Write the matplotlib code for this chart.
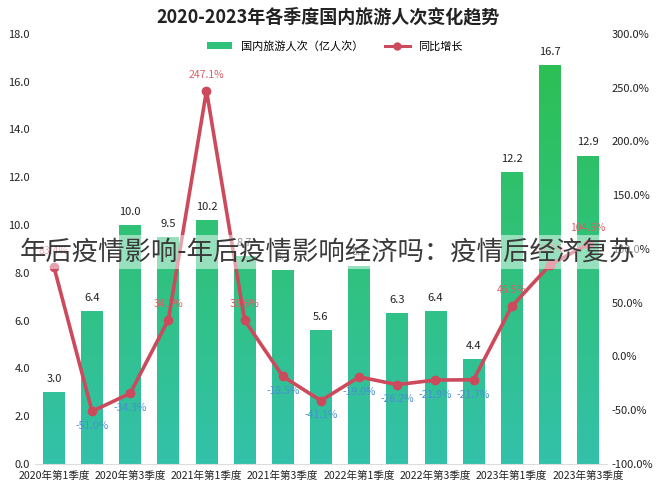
import matplotlib
matplotlib.use("Agg")
import matplotlib.pyplot as plt
import numpy as np
from matplotlib.colors import LinearSegmentedColormap
from matplotlib.lines import Line2D
from matplotlib.patches import Patch

plt.rcParams['font.family'] = ['Noto Sans CJK SC', 'DejaVu Sans']

quarters = ["2020年第1季度", "2020年第2季度", "2020年第3季度", "2020年第4季度",
            "2021年第1季度", "2021年第2季度", "2021年第3季度", "2021年第4季度",
            "2022年第1季度", "2022年第2季度", "2022年第3季度", "2022年第4季度",
            "2023年第1季度", "2023年第2季度", "2023年第3季度"]
trips = [3.0, 6.4, 10.0, 9.5, 10.2, 8.7, 8.1, 5.6, 8.3, 6.3, 6.4, 4.4, 12.2, 16.7, 12.9]
growth = [83.4, -51.0, -34.3, 34.1, 247.1, 33.6, -18.5, -41.1, -19.0, -26.2, -21.9, -21.7, 46.5, 85.0, 104.5]
left_ticks = [0, 2, 4, 6, 8, 10, 12, 14, 16, 18]
right_ticks = [-100, -50, 0, 50, 100, 150, 200, 250, 300]

title = "2020-2023年各季度国内旅游人次变化趋势"
bar_name = "国内旅游人次（亿人次）"
line_name = "同比增长"
watermark = "年后疫情影响-年后疫情影响经济吗：疫情后经济复苏"

fig = plt.figure(figsize=(6.57, 4.90), dpi=100)
ax = fig.add_axes([0.053, 0.053, 0.871, 0.878])
ax2 = ax.twinx()

x = np.arange(len(quarters))
bars = ax.bar(x, trips, width=0.57, color='none', edgecolor='none', zorder=2)
cmap = LinearSegmentedColormap.from_list("g", ["#33c1aa", "#30c27a", "#2cbf4f"])
grad = np.linspace(0, 1, 256).reshape(-1, 1)
for b in bars:
    x0, w, h = b.get_x(), b.get_width(), b.get_height()
    im = ax.imshow(grad, cmap=cmap, aspect='auto', origin='lower',
                   extent=[x0, x0 + w, 0, 18], zorder=2)
    im.set_clip_path(b)
for xi, v in zip(x, trips):
    ax.annotate(f"{v:.1f}", (xi, v), xytext=(0, 6), textcoords='offset points',
                ha='center', va='bottom', fontsize=8, color='#222222')

ax.set_xlim(-0.5, len(quarters) - 0.5)
ax.set_ylim(0, 18)
ax.set_yticks(left_ticks)
ax.set_yticklabels([f"{t:.1f}" for t in left_ticks], fontsize=8)
ax.set_xticks(x[::2])
ax.set_xticklabels(quarters[::2], fontsize=7.6)
ax.tick_params(length=0, colors='#222222')
ax.tick_params(axis='x', pad=5)

line_color = '#cc4a5c'
ax2.plot(x, growth, color=line_color, lw=2.6, marker='o', markersize=6, zorder=5)
ax2.set_ylim(-100, 300)
ax2.set_yticks(right_ticks)
ax2.set_yticklabels([f"{t:.1f}%" for t in right_ticks], fontsize=8)
ax2.tick_params(length=0, colors='#222222')
for xi, v in zip(x, growth):
    if v >= 0:
        ax2.annotate(f"{v:.1f}%", (xi, v), xytext=(0, 8), textcoords='offset points',
                     ha='center', va='bottom', fontsize=7.5, color='#d9606a')
    else:
        ax2.annotate(f"{v:.1f}%", (xi, v), xytext=(0, -7), textcoords='offset points',
                     ha='center', va='top', fontsize=7.5, color='#4a8fd0')

for a in (ax, ax2):
    for s in ('top', 'left', 'right'):
        a.spines[s].set_visible(False)
    a.spines['bottom'].set_color('#dddddd')
ax2.spines['bottom'].set_visible(False)

fig.text(0.5, 0.965, title, ha='center', va='center', fontsize=13, fontweight='bold', color='#222222')

handles = [Patch(facecolor='#2ec27a', edgecolor='none'),
           Line2D([0], [0], color=line_color, lw=2.2, marker='o', markersize=5)]
fig.legend(handles, [bar_name, line_name], loc='center', bbox_to_anchor=(0.51, 0.906),
           ncol=2, frameon=False, fontsize=8, handlelength=2.2, columnspacing=2.0)

fig.text(0.499, 0.486, watermark, ha='center', va='center', fontsize=19, color='#3a3a3a',
         fontweight='light', zorder=20,
         bbox=dict(facecolor='white', alpha=0.5, edgecolor='none', pad=2.5))

fig.savefig("out.png", dpi=100)
